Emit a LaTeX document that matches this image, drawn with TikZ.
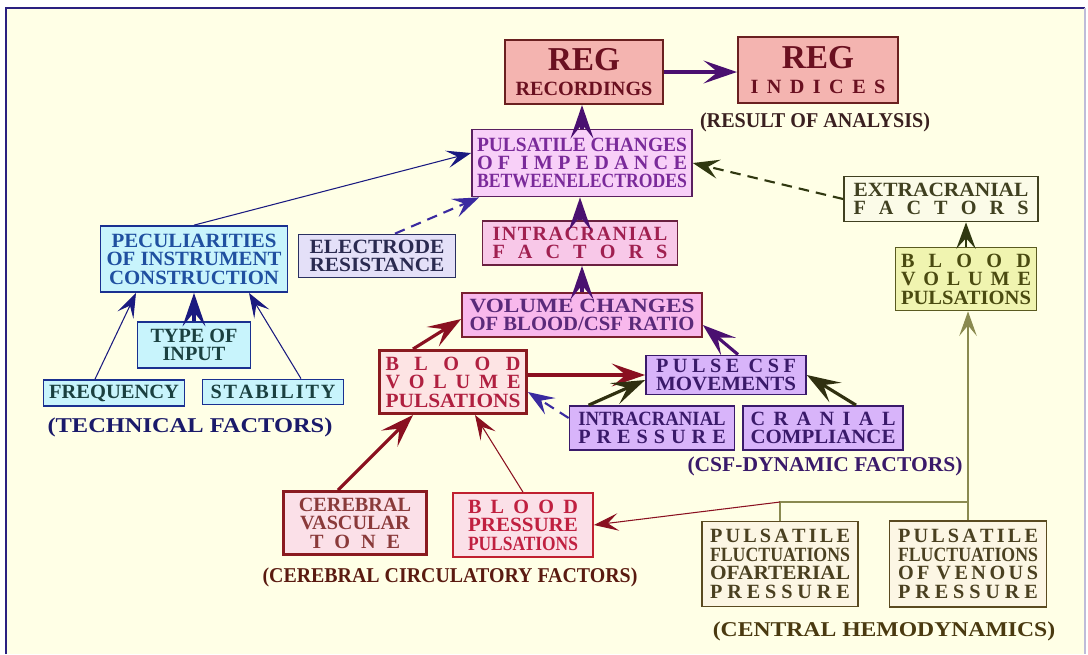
\documentclass[tikz,border=0pt]{standalone}
\usepackage{fontspec}
\setmainfont{Liberation Serif}
\usepackage{graphicx}
\usetikzlibrary{arrows.meta}

\definecolor{bgcream}{HTML}{FFFFE6}
\definecolor{framecol}{HTML}{2A2080}
\definecolor{regfill}{HTML}{F4B4B0}
\definecolor{regline}{HTML}{6A2020}
\definecolor{regtext}{HTML}{6A1020}
\definecolor{pchfill}{HTML}{F8D0F8}
\definecolor{pchline}{HTML}{5A2060}
\definecolor{pchtext}{HTML}{7A2A9A}
\definecolor{purparr}{HTML}{4A1070}
\definecolor{extfill}{HTML}{FBFBE8}
\definecolor{oliveline}{HTML}{404020}
\definecolor{olivearr}{HTML}{303810}
\definecolor{tecfill}{HTML}{C8F4FC}
\definecolor{tecline}{HTML}{1A3090}
\definecolor{tectext}{HTML}{2050A0}
\definecolor{tectext2}{HTML}{1A4040}
\definecolor{navyarr}{HTML}{1A1A80}
\definecolor{elefill}{HTML}{E4E0F8}
\definecolor{eleline}{HTML}{2A3060}
\definecolor{eletext}{HTML}{2A2A50}
\definecolor{dasharr}{HTML}{3A2AA0}
\definecolor{icffill}{HTML}{F8C8E8}
\definecolor{icfline}{HTML}{6A2040}
\definecolor{icftext}{HTML}{A02050}
\definecolor{bvyfill}{HTML}{F0F4B0}
\definecolor{bvyline}{HTML}{5A5A20}
\definecolor{bvytext}{HTML}{4A4A10}
\definecolor{vchfill}{HTML}{F8B8EC}
\definecolor{vchline}{HTML}{7A2030}
\definecolor{vchtext}{HTML}{5A2A7A}
\definecolor{bvrfill}{HTML}{FDE4E4}
\definecolor{bvrline}{HTML}{8A1A20}
\definecolor{bvrtext}{HTML}{B02040}
\definecolor{redarr}{HTML}{8A1020}
\definecolor{csffill}{HTML}{D8B4FA}
\definecolor{csfline}{HTML}{3A1A6A}
\definecolor{csftext}{HTML}{3A1A6A}
\definecolor{darkarr}{HTML}{303010}
\definecolor{cvtfill}{HTML}{FBE0E8}
\definecolor{cvttext}{HTML}{8A3A3A}
\definecolor{bppline}{HTML}{C02030}
\definecolor{bpptext}{HTML}{C02040}
\definecolor{hemofill}{HTML}{FCF6E4}
\definecolor{hemoline}{HTML}{5A4A20}
\definecolor{hemotext}{HTML}{4A4020}
\definecolor{hemoarr}{HTML}{8A8A50}
\definecolor{reslbl}{HTML}{3A2020}
\definecolor{teclbl}{HTML}{1A1A6A}
\definecolor{ccflbl}{HTML}{5A1A10}
\definecolor{hemolbl}{HTML}{4A3A10}

\newcommand{\sprd}[2]{\makebox[#1][s]{\spaceskip=0pt plus 1fil #2}}
\newcommand{\fitw}[2]{\resizebox{#1}{\height}{#2}}

\begin{document}
\begin{tikzpicture}[x=0.02cm, y=-0.02cm,
    box/.style={draw, line width=1pt, inner sep=2pt, align=center,
      font=\bfseries\fontsize{11.5}{10.5}\selectfont},
    regbox/.style={box, fill=regfill, draw=regline, text=regtext, line width=1.2pt},
    pchbox/.style={box, fill=pchfill, draw=pchline, text=pchtext},
    extbox/.style={box, fill=extfill, draw=oliveline, text=oliveline},
    tecbox/.style={box, fill=tecfill, draw=tecline, text=tectext},
    inpbox/.style={box, fill=tecfill, draw=tecline, text=tectext2},
    elebox/.style={box, fill=elefill, draw=eleline, text=eletext},
    icfbox/.style={box, fill=icffill, draw=icfline, text=icftext},
    bvybox/.style={box, fill=bvyfill, draw=bvyline, text=bvytext},
    vchbox/.style={box, fill=vchfill, draw=vchline, text=vchtext},
    bvrbox/.style={box, fill=bvrfill, draw=bvrline, text=bvrtext, line width=1.7pt},
    csfbox/.style={box, fill=csffill, draw=csfline, text=csftext},
    cvtbox/.style={box, fill=cvtfill, draw=bvrline, text=cvttext, line width=1.7pt},
    bppbox/.style={box, fill=cvtfill, draw=bppline, text=bpptext},
    hemobox/.style={box, fill=hemofill, draw=hemoline, text=hemotext},
    lbl/.style={inner sep=0pt, font=\bfseries\fontsize{12}{12}\selectfont},
    thk/.style={line width=1.8pt, -{Stealth[length=19pt,width=13pt,inset=8pt]}},
    mid/.style={line width=1.1pt, -{Stealth[length=15pt,width=11pt,inset=6pt]}},
    thn/.style={line width=0.6pt, -{Stealth[length=14pt,width=10pt,inset=6pt]}},
    dsh/.style={line width=1.2pt, dash pattern=on 6pt off 4pt, -{Stealth[length=15pt,width=11pt,inset=6pt]}}]
  \useasboundingbox (0,0) rectangle (1088,654);
  % frame
  \fill[white] (0,0) rectangle (1088,654);
  \fill[bgcream] (7,9) rectangle (1085,654);
  \draw[framecol, line width=1.4pt] (6,654) -- (6,8) -- (1085,8);
  \draw[framecol!30, line width=1pt] (1085,8) -- (1085,654);

  % result of analysis
  \node (rec) at (584,72) [regbox, minimum width=3.16cm, minimum height=1.28cm] {{\fontsize{19}{19}\selectfont REG}\\[4pt]RECORDINGS};
  \node (ind) at (818,70) [regbox, minimum width=3.2cm, minimum height=1.32cm] {{\fontsize{19}{19}\selectfont REG}\\[4pt]\sprd{2.7cm}{I N D I C E S}};
  \node (reslbl) at (815,122) [lbl, text=reslbl] {\fitw{4.6cm}{(RESULT OF ANALYSIS)}};

  % impedance
  \node (pch) at (582,163) [pchbox, minimum width=4.4cm, minimum height=1.34cm] {\fitw{4.2cm}{PULSATILE CHANGES}\\\sprd{4.2cm}{O F \ I M P E D A N C E}\\\fitw{4.2cm}{BETWEENELECTRODES}};
  \node (ext) at (941,199) [extbox, minimum width=3.88cm, minimum height=0.9cm] {\fitw{3.5cm}{EXTRACRANIAL}\\\sprd{3.5cm}{F A C T O R S}};
  \node (icf) at (580,243) [icfbox, minimum width=3.9cm, minimum height=0.88cm] {\sprd{3.5cm}{I N T R A C R A N I A L}\\\sprd{3.5cm}{F A C T O R S}};
  \node (vch) at (582,315) [vchbox, minimum width=4.8cm, minimum height=0.88cm] {\fitw{4.5cm}{VOLUME CHANGES}\\\fitw{4.5cm}{OF BLOOD/CSF RATIO}};
  \node (bvy) at (966,279) [bvybox, minimum width=2.82cm, minimum height=1.26cm] {\sprd{2.6cm}{B L O O D}\\\sprd{2.6cm}{V O L U M E}\\\fitw{2.6cm}{PULSATIONS}};

  % technical factors
  \node (pec) at (194,259) [tecbox, minimum width=3.74cm, minimum height=1.32cm] {\fitw{3.3cm}{PECULIARITIES}\\\fitw{3.5cm}{OF INSTRUMENT}\\\fitw{3.4cm}{CONSTRUCTION}};
  \node (ele) at (377,256) [elebox, minimum width=3.14cm, minimum height=0.86cm] {\fitw{2.7cm}{ELECTRODE}\\\fitw{2.7cm}{RESISTANCE}};
  \node (typ) at (194,345) [inpbox, minimum width=2.26cm, minimum height=0.92cm] {TYPE OF\\INPUT};
  \node (frq) at (114,393) [inpbox, minimum width=2.82cm, minimum height=0.52cm] {\fitw{2.6cm}{FREQUENCY}};
  \node (stb) at (273,392) [inpbox, minimum width=2.82cm, minimum height=0.5cm] {\sprd{2.5cm}{S T A B I L I T Y}};
  \node (teclbl) at (190,427) [lbl, text=teclbl] {\fitw{5.7cm}{(TECHNICAL FACTORS)}};

  % csf-dynamic factors
  \node (bvr) at (453,382) [bvrbox, minimum width=2.94cm, minimum height=1.26cm] {\sprd{2.7cm}{B L O O D}\\\sprd{2.7cm}{V O L U M E}\\\fitw{2.7cm}{PULSATIONS}};
  \node (pcsf) at (726,375) [csfbox, minimum width=3.2cm, minimum height=0.76cm] {\sprd{2.8cm}{P U L S E \ C S F}\\\fitw{2.8cm}{MOVEMENTS}};
  \node (icp) at (652,428) [csfbox, minimum width=3.3cm, minimum height=0.88cm] {\fitw{2.95cm}{INTRACRANIAL}\\\sprd{2.95cm}{P R E S S U R E}};
  \node (ccp) at (823,428) [csfbox, minimum width=3.2cm, minimum height=0.88cm] {\sprd{2.9cm}{C R A N I A L}\\\fitw{2.9cm}{COMPLIANCE}};
  \node (csflbl) at (825,466) [lbl, text=csftext] {\fitw{5.5cm}{(CSF-DYNAMIC FACTORS)}};

  % cerebral circulatory factors
  \node (cvt) at (355,523) [cvtbox, minimum width=2.86cm, minimum height=1.26cm] {CEREBRAL\\VASCULAR\\\sprd{1.8cm}{T O N E}};
  \node (bpp) at (523,525) [bppbox, minimum width=2.8cm, minimum height=1.28cm] {\sprd{2.2cm}{B L O O D}\\\fitw{2.2cm}{PRESSURE}\\\fitw{2.2cm}{PULSATIONS}};
  \node (ccflbl) at (450,577) [lbl, text=ccflbl] {\fitw{7.5cm}{(CEREBRAL CIRCULATORY FACTORS)}};

  % central hemodynamics
  \node (art) at (780,564) [hemobox, minimum width=3.12cm, minimum height=1.7cm] {\sprd{2.8cm}{P U L S A T I L E}\\\fitw{2.8cm}{FLUCTUATIONS}\\\fitw{2.8cm}{OFARTERIAL}\\\sprd{2.8cm}{P R E S S U R E}};
  \node (ven) at (968,564) [hemobox, minimum width=3.14cm, minimum height=1.72cm] {\sprd{2.8cm}{P U L S A T I L E}\\\fitw{2.8cm}{FLUCTUATIONS}\\\sprd{2.8cm}{O F \ V E N O U S}\\\sprd{2.8cm}{P R E S S U R E}};
  \node (hemolbl) at (884,631) [lbl, text=hemolbl] {\fitw{6.85cm}{(CENTRAL HEMODYNAMICS)}};
  \coordinate (ja) at (780,502);
  \coordinate (jv) at (968,502);

  % connectors
  \draw[thk, purparr] (rec.east) -- (rec.east -| ind.west);
  \draw[thk, purparr] (pch.north) -- (pch.north |- rec.south);
  \draw[thk, purparr] (icf.north) -- (icf.north |- pch.south);
  \draw[thk, purparr] (vch.north) -- (vch.north |- icf.south);
  \draw[dsh, olivearr] (ext.west) -- (pch.east);
  \draw[dsh, dasharr] ([xshift=0.36cm]ele.north) -- ([xshift=0.16cm]pch.south west);
  \draw[thn, navyarr] (pec.north) -- ([yshift=0.2cm]pch.west);
  \draw[mid, olivearr] (bvy.north) -- (bvy.north |- ext.south);
  \draw[thn, hemoarr] (ven.north) -- (ven.north |- bvy.south);
  \draw[hemoarr, line width=0.6pt] (art.north) -- (ja) -- (jv);
  \draw[thn, redarr] (ja) -- (bpp.east);
  \draw[thn, redarr] (bpp.north) -- ([xshift=0.44cm]bvr.south);
  \draw[thk, redarr] ([xshift=-0.34cm]cvt.north) -- ([xshift=-0.8cm]bvr.south);
  \draw[thk, redarr] ([xshift=-0.8cm]bvr.north) -- ([yshift=-0.08cm]vch.west);
  \draw[thk, redarr] (bvr.east |- pcsf.west) -- (pcsf.west);
  \draw[thk, purparr] ([xshift=0.24cm]pcsf.north) -- ([yshift=-0.2cm]vch.east);
  \draw[thk, darkarr] ([xshift=0.4cm]icp.north west) -- ([yshift=-0.1cm]pcsf.west);
  \draw[thk, darkarr] ([xshift=0.66cm]ccp.north) -- (pcsf.east);
  \draw[dsh, dasharr] ([yshift=0.2cm]icp.west) -- ([yshift=-0.2cm]bvr.east);
  \draw[thn, navyarr] ([xshift=-0.38cm]frq.north) -- ([xshift=-1.16cm]pec.south);
  \draw[thk, navyarr] (typ.north) -- (typ.north |- pec.south);
  \draw[thn, navyarr] ([xshift=0.56cm]stb.north) -- ([xshift=1.1cm]pec.south);
\end{tikzpicture}
\end{document}
